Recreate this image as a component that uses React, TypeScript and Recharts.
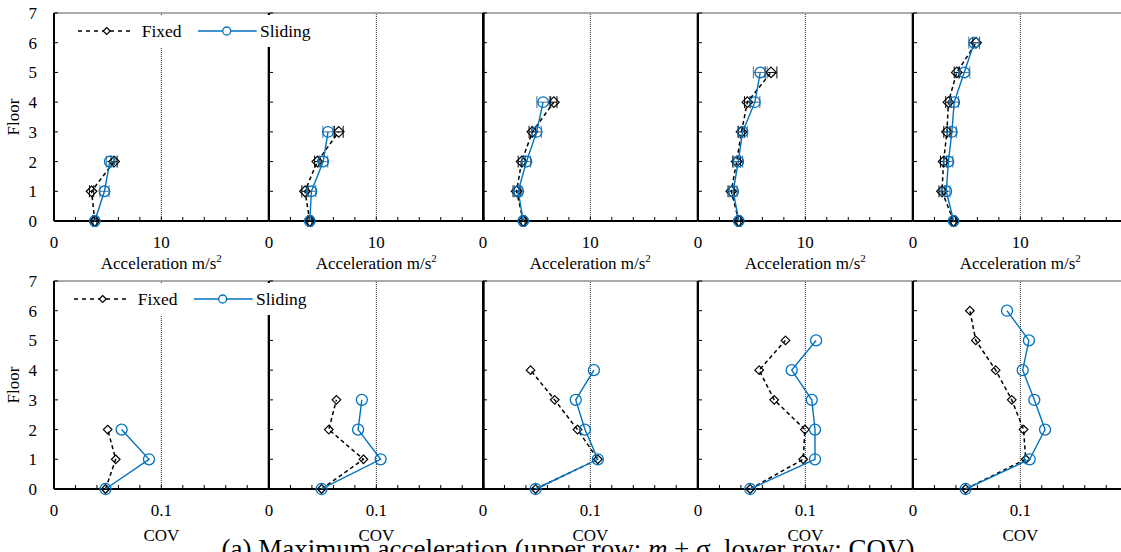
import React from 'react';
import { ScatterChart, Scatter, XAxis, YAxis, ErrorBar, ReferenceLine, Legend, Label } from 'recharts';

// floors of the building (y axis)
const floors = [0, 1, 2, 3, 4, 5, 6];

// upper row: mean max acceleration (m/s2) and standard deviation, one list per panel
const accFixedMean = [
  [3.8, 3.5, 5.6],
  [3.8, 3.35, 4.5, 6.5],
  [3.75, 3.13, 3.6, 4.6, 6.6],
  [3.8, 3.1, 3.6, 4.05, 4.6, 6.8],
  [3.78, 2.7, 2.85, 3.16, 3.3, 4.08, 5.88],
];
const accFixedSd = [
  [0.18, 0.2, 0.28],
  [0.19, 0.29, 0.25, 0.41],
  [0.18, 0.33, 0.32, 0.31, 0.29],
  [0.18, 0.3, 0.36, 0.29, 0.26, 0.55],
  [0.19, 0.28, 0.29, 0.29, 0.25, 0.24, 0.31],
];
const accSlidingMean = [
  [3.8, 4.7, 5.2],
  [3.8, 3.95, 5.05, 5.5],
  [3.75, 3.28, 4.05, 5.0, 5.6],
  [3.8, 3.28, 3.75, 4.15, 5.3, 5.8],
  [3.78, 3.1, 3.3, 3.62, 3.84, 4.77, 5.7],
];
const accSlidingSd = [
  [0.18, 0.42, 0.33],
  [0.19, 0.41, 0.42, 0.48],
  [0.18, 0.35, 0.38, 0.43, 0.58],
  [0.18, 0.36, 0.41, 0.44, 0.46, 0.64],
  [0.19, 0.34, 0.41, 0.41, 0.39, 0.52, 0.5],
];

// lower row: coefficient of variation
const covFixed = [
  [0.048, 0.0575, 0.05],
  [0.049, 0.088, 0.0557, 0.0628],
  [0.049, 0.107, 0.088, 0.0668, 0.0443],
  [0.0486, 0.098, 0.0996, 0.071, 0.057, 0.0815],
  [0.049, 0.105, 0.103, 0.092, 0.077, 0.0585, 0.053],
];
const covSliding = [
  [0.048, 0.0885, 0.063],
  [0.049, 0.104, 0.083, 0.0865],
  [0.049, 0.107, 0.095, 0.0864, 0.1033],
  [0.0486, 0.109, 0.109, 0.106, 0.0873, 0.11],
  [0.049, 0.1087, 0.123, 0.113, 0.1022, 0.108, 0.0876],
];

const accTicks = [0, 2, 4, 6, 8, 10, 12, 14, 16, 18, 20];
const accLabels = [0, 10];
const covTicks = [0, 0.02, 0.04, 0.06, 0.08, 0.1, 0.12, 0.14, 0.16, 0.18, 0.2];
const covLabels = [0, 0.1];
const floorTicks = [0, 1, 2, 3, 4, 5, 6, 7];

const PW = 214.7;
const PH = 208;
const ML = 60;
const MR = 12;
const MT = 12;
const MB = 62;
const BLUE = '#0072BD';
const FONT = "'Liberation Serif', serif";
const txt = { fontFamily: FONT };

const diamond = (r: number) => (p: any) => (
  <path
    d={`M${p.cx},${p.cy - r}L${p.cx + r},${p.cy}L${p.cx},${p.cy + r}L${p.cx - r},${p.cy}Z`}
    fill="none"
    stroke="#000"
    strokeWidth={1.2}
  />
);
const circle = (r: number) => (p: any) => (
  <circle cx={p.cx} cy={p.cy} r={r} fill="none" stroke={BLUE} strokeWidth={1.3} />
);

const LegendBox = ({ shift }: { shift: number }) => (
  <svg width={260} height={32} style={{ display: 'block', background: '#fff' }}>
    <line x1={8 - shift} x2={60 - shift} y1={16} y2={16} stroke="#000" strokeWidth={1.5} strokeDasharray="4 4" />
    <path d={`M${36.7 - shift},12.5L${40.2 - shift},16L${36.7 - shift},19.5L${33.2 - shift},16Z`} fill="#fff" stroke="#000" strokeWidth={1.2} />
    <text x={71.7 - shift} y={22} fontSize={17.5} style={txt} fill="#000">Fixed</text>
    <line x1={128 - shift} x2={186.7 - shift} y1={16} y2={16} stroke={BLUE} strokeWidth={1.3} />
    <circle cx={156.7 - shift} cy={16} r={4} fill="#fff" stroke={BLUE} strokeWidth={1.3} />
    <text x={190 - shift} y={22} fontSize={17.5} style={txt} fill="#000">Sliding</text>
  </svg>
);

type PanelProps = { idx: number; top: number; kind: 'acc' | 'cov' };

const Panel = ({ idx, top, kind }: PanelProps) => {
  const isAcc = kind === 'acc';
  const fixed = (isAcc ? accFixedMean[idx] : covFixed[idx]).map((v, i) => ({
    x: v,
    y: floors[i],
    e: isAcc ? accFixedSd[idx][i] : 0,
  }));
  const sliding = (isAcc ? accSlidingMean[idx] : covSliding[idx]).map((v, i) => ({
    x: v,
    y: floors[i],
    e: isAcc ? accSlidingSd[idx][i] : 0,
  }));
  const ticks = isAcc ? accTicks : covTicks;
  const labels = isAcc ? accLabels : covLabels;
  const axisY = MT + PH;

  const bottomTick = (p: any) => {
    const v = p.payload.value;
    return (
      <g>
        {v !== 0 && <line x1={p.x} x2={p.x} y1={axisY} y2={axisY - 4} stroke="#000" strokeWidth={1} />}
        {labels.includes(v) && (
          <text x={p.x} y={axisY + 27} textAnchor="middle" fontSize={17} style={txt} fill="#000">
            {String(v)}
          </text>
        )}
      </g>
    );
  };
  const leftTick = (p: any) => (
    <g>
      <line x1={ML} x2={ML + 4} y1={p.y} y2={p.y} stroke="#000" strokeWidth={1} />
      {idx === 0 && (
        <text x={ML - 17} y={p.y + 6} textAnchor="end" fontSize={17} style={txt} fill="#000">
          {p.payload.value}
        </text>
      )}
    </g>
  );
  const rightTick = (p: any) => (
    <line x1={ML + PW} x2={ML + PW - 4} y1={p.y} y2={p.y} stroke="#000" strokeWidth={1} />
  );

  const xLabel = () =>
    isAcc ? (
      <text x={ML + PW / 2} y={axisY + 48} textAnchor="middle" fontSize={17} style={txt} fill="#000">
        Acceleration m/s<tspan dy={-7} fontSize={11}>2</tspan>
      </text>
    ) : (
      <text x={ML + PW / 2} y={axisY + 52} textAnchor="middle" fontSize={17} style={txt} fill="#000">
        COV
      </text>
    );
  const yLabel = () => (
    <text
      x={ML - 40}
      y={MT + PH / 2}
      transform={`rotate(-90 ${ML - 40} ${MT + PH / 2})`}
      textAnchor="middle"
      dominantBaseline="central"
      fontSize={17}
      style={txt}
      fill="#000"
    >
      Floor
    </text>
  );

  return (
    <div style={{ position: 'absolute', left: 54 + idx * PW - ML, top: top - MT, zIndex: idx === 0 ? 2 : 1 }}>
      <ScatterChart
        width={ML + PW + MR}
        height={MT + PH + MB}
        margin={{ top: MT, right: MR - 1, bottom: MB - 1, left: ML - 1 }}
      >
        <XAxis
          xAxisId="b"
          type="number"
          dataKey="x"
          domain={[0, isAcc ? 20 : 0.2]}
          ticks={ticks}
          interval={0}
          tick={bottomTick}
          tickLine={false}
          axisLine={{ stroke: '#000', strokeWidth: 2 }}
          height={1}
        >
          <Label content={xLabel} />
        </XAxis>
        <YAxis
          yAxisId="l"
          type="number"
          dataKey="y"
          domain={[0, 7]}
          ticks={floorTicks}
          interval={0}
          tick={leftTick}
          tickLine={false}
          axisLine={{ stroke: '#000', strokeWidth: 2 }}
          width={1}
        >
          {idx === 0 && <Label content={yLabel} />}
        </YAxis>
        <YAxis
          yAxisId="r"
          orientation="right"
          type="number"
          domain={[0, 7]}
          ticks={floorTicks}
          interval={0}
          tick={rightTick}
          tickLine={false}
          axisLine={{ stroke: '#000', strokeWidth: 2 }}
          width={1}
        />
        <ReferenceLine xAxisId="b" yAxisId="l" y={7} stroke="#555" strokeWidth={1} />
        <ReferenceLine xAxisId="b" yAxisId="l" x={isAcc ? 10 : 0.1} stroke="#222" strokeDasharray="1 1" />
        <Scatter
          name="Fixed"
          xAxisId="b"
          yAxisId="l"
          data={fixed}
          fill="#000"
          line={{ stroke: '#000', strokeWidth: 1.5, strokeDasharray: '4 3' }}
          lineType="joint"
          shape={diamond(isAcc ? 5.3 : 4.3)}
          isAnimationActive={false}
        >
          {isAcc && <ErrorBar dataKey="e" direction="x" width={6} stroke="#000" strokeWidth={1} />}
        </Scatter>
        <Scatter
          name="Sliding"
          xAxisId="b"
          yAxisId="l"
          data={sliding}
          fill={BLUE}
          line={{ stroke: BLUE, strokeWidth: 1.4 }}
          lineType="joint"
          shape={circle(isAcc ? 5.3 : 5.5)}
          isAnimationActive={false}
        >
          {isAcc && <ErrorBar dataKey="e" direction="x" width={6} stroke="#4a6f95" strokeWidth={1} />}
        </Scatter>
        {idx === 0 && (
          <Legend
            verticalAlign="middle"
            align="center"
            content={() => <LegendBox shift={isAcc ? 0 : 4} />}
            wrapperStyle={{
              position: 'absolute',
              left: 70 - (54 - ML),
              top: isAcc ? 15 - (top - MT) : 283 - (top - MT),
              width: 260,
              height: 32,
            }}
          />
        )}
      </ScatterChart>
    </div>
  );
};

const panelIdx = [0, 1, 2, 3, 4];

export default function App() {
  return (
    <div
      style={{
        position: 'fixed',
        left: 0,
        top: 0,
        width: 1121,
        height: 552,
        overflow: 'hidden',
        background: '#fff',
        fontFamily: FONT,
      }}
    >
      {panelIdx.map((i) => (
        <Panel key={`a${i}`} idx={i} top={12.7} kind="acc" />
      ))}
      {panelIdx.map((i) => (
        <Panel key={`c${i}`} idx={i} top={280.7} kind="cov" />
      ))}
      <div
        style={{
          position: 'absolute',
          left: 68,
          width: 1000,
          top: 536,
          textAlign: 'center',
          fontSize: 27,
          lineHeight: '27px',
          whiteSpace: 'nowrap',
          color: '#000',
          zIndex: 3,
        }}
      >
        (a) Maximum acceleration (upper row: <i>m</i> ± σ, lower row: COV)
      </div>
    </div>
  );
}
